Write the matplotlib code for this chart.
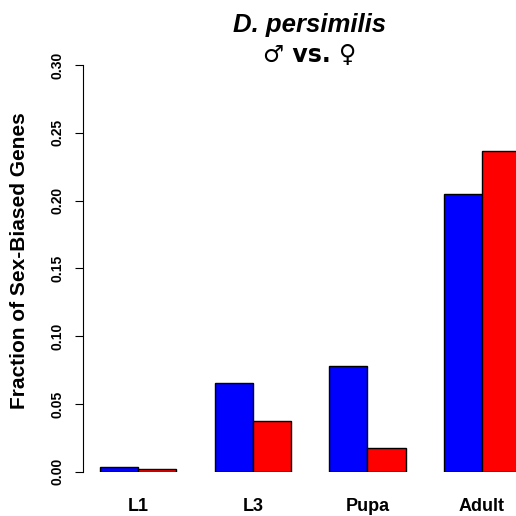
import matplotlib
matplotlib.use('Agg')
import matplotlib.pyplot as plt
import numpy as np

plt.rcParams['font.family'] = ['Liberation Sans', 'DejaVu Sans']

STAGES = ['L1', 'L3', 'Pupa', 'Adult']
MALE = [0.0037, 0.0654, 0.0780, 0.2046]
FEMALE = [0.0018, 0.0374, 0.0173, 0.2368]
Y_TICKS = [0.00, 0.05, 0.10, 0.15, 0.20, 0.25, 0.30]


def main():
    fig = plt.figure(figsize=(5.16, 5.16), dpi=100)
    W = 516.0
    # plot region in pixels: left edge 82.7, bottom 471.7, top 65
    ax = fig.add_axes([82.7 / W, (W - 471.7) / W, (W - 82.7) / W, (471.7 - 65) / W])

    # barplot(beside=TRUE) layout: one bar gap before each group
    groups = np.arange(len(STAGES)) * 3
    male_x = groups + 1.5
    female_x = groups + 2.5
    ax.bar(male_x, MALE, width=1.0, color='#0000ff', edgecolor='black', linewidth=1.0)
    ax.bar(female_x, FEMALE, width=1.0, color='#ff0000', edgecolor='black', linewidth=1.0)

    ax.set_xlim(0.547, 0.547 + (W - 82.7) / 38.2)
    ax.set_ylim(0, 0.30)

    for side in ['top', 'right', 'bottom']:
        ax.spines[side].set_visible(False)
    ax.spines['left'].set_bounds(0, 0.30)
    ax.spines['left'].set_linewidth(0.8)

    ax.set_yticks(Y_TICKS)
    ax.set_yticklabels(['{:.2f}'.format(t) for t in Y_TICKS], rotation=90,
                       va='center', fontsize=10, fontweight='bold')
    ax.tick_params(axis='y', length=5.8, width=0.8, pad=7)

    ax.set_xticks(groups + 2.0)
    ax.set_xticklabels(STAGES, fontsize=13, fontweight='bold')
    ax.tick_params(axis='x', length=0, pad=19)

    fig.text(20 / W, 1 - 261 / W, 'Fraction of Sex-Biased Genes', rotation=90,
             ha='center', va='center', fontsize=15, fontweight='bold')

    fig.text(310 / W, 1 - 32 / W, 'D. persimilis', ha='center', va='baseline',
             fontsize=18.5, fontweight='bold', fontstyle='italic')
    fig.text(310 / W, 1 - 62 / W, '\u2642 vs. \u2640', ha='center', va='baseline',
             fontsize=17, fontweight='bold', family='DejaVu Sans')

    fig.savefig('out.png', dpi=100)


if __name__ == '__main__':
    main()
